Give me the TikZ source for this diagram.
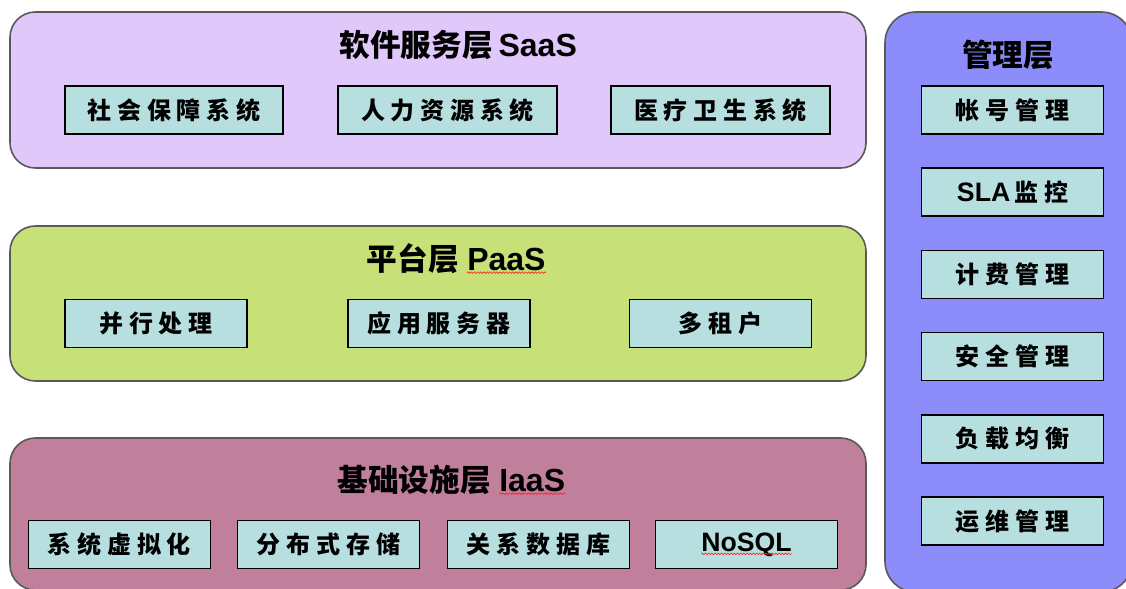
\documentclass[tikz,border=0pt]{standalone}
\usepackage{fontspec}
\setmainfont{Liberation Sans}
\newfontfamily\cjk{Noto Sans CJK SC}
\newfontfamily\cjkbox[LetterSpace=24]{Noto Sans CJK SC}
\usetikzlibrary{positioning,decorations.pathmorphing}

\definecolor{saasfill}{RGB}{225,200,250}
\definecolor{paasfill}{RGB}{200,224,120}
\definecolor{iaasfill}{RGB}{192,128,156}
\definecolor{mgmtfill}{RGB}{140,140,250}
\definecolor{compfill}{RGB}{183,223,224}

\newcommand\boxlat[1]{{\rmfamily\bfseries\fontsize{20}{24}\selectfont #1}}

\begin{document}
\begin{tikzpicture}[x=0.75pt, y=-0.75pt,
    layer/.style={draw=black!65, line width=1.2pt, rounded corners=19pt},
    comp/.style={draw, line width=1.3pt, fill=compfill, inner sep=0pt,
      minimum width=136.5pt, minimum height=36pt,
      font=\cjkbox\bfseries\fontsize{18}{21}\selectfont},
    wide/.style={minimum width=164pt},
    titlecn/.style={inner sep=0pt, font=\cjk\bfseries\fontsize{23}{26}\selectfont},
    titlelat/.style={inner sep=0pt, font=\bfseries\fontsize{24}{26}\selectfont},
    wave/.style={red!85, line width=0.5pt, decorate,
      decoration={snake, amplitude=0.6pt, segment length=2.4pt}}]
  \useasboundingbox (0,0) rectangle (1126,588);
  \clip (0,0) rectangle (1126,588);

  % layers
  \draw[layer, fill=saasfill] (10,12) rectangle (866,168);
  \draw[layer, fill=paasfill] (10,226) rectangle (866,381);
  \draw[layer, fill=iaasfill] (10,438) rectangle (866,590);
  \draw[layer, fill=mgmtfill, rounded corners=23pt] (885,12) rectangle (1132,592);

  % SaaS
  \node[titlecn, anchor=base east] (saas) at (493,57) {软件服务层};
  \node[titlelat, base right=4pt of saas] (saaslat) {SaaS};
  \node[comp, wide] (social) at (174,110) {社会保障系统};
  \node[comp, wide] (hr) at (447.5,110) {人力资源系统};
  \node[comp, wide] (health) at (720.5,110) {医疗卫生系统};

  % PaaS
  \node[titlecn, anchor=base east] (paas) at (459,270) {平台层};
  \node[titlelat, base right=6pt of paas] (paaslat) {PaaS};
  \node[comp] (parallel) at (156,323.5) {并行处理};
  \node[comp] (appsrv) at (439,323.5) {应用服务器};
  \node[comp] (tenant) at (720.5,323.5) {多租户};

  % IaaS
  \node[titlecn, anchor=base east] (iaas) at (491,491) {基础设施层};
  \node[titlelat, base right=6pt of iaas] (iaaslat) {IaaS};
  \node[comp] (virt) at (119.5,544.5) {系统虚拟化};
  \node[comp] (dstore) at (328.5,544.5) {分布式存储};
  \node[comp] (rdb) at (538.5,544.5) {关系数据库};
  \node[comp] (nosql) at (746.5,544.5) {\boxlat{NoSQL}};

  % management
  \node[titlecn] (mgmt) at (1008,55) {管理层};
  \foreach \name/\txt [count=\i from 0] in {acct/帐号管理, sla/{\boxlat{SLA}\,监控},
      bill/计费管理, sec/安全管理, lb/负载均衡, ops/运维管理}
    \node[comp] (\name) at (1012.5,110+82.2*\i) {\txt};

  % spell-check underlines
  \draw[wave] ([yshift=-2pt]paaslat.base west) -- ([yshift=-2pt]paaslat.base east);
  \draw[wave] ([yshift=-2pt]iaaslat.base west) -- ([yshift=-2pt]iaaslat.base east);
  \draw[wave] ([xshift=-34pt, yshift=-2pt]nosql.base) -- ([xshift=34pt, yshift=-2pt]nosql.base);
\end{tikzpicture}
\end{document}
